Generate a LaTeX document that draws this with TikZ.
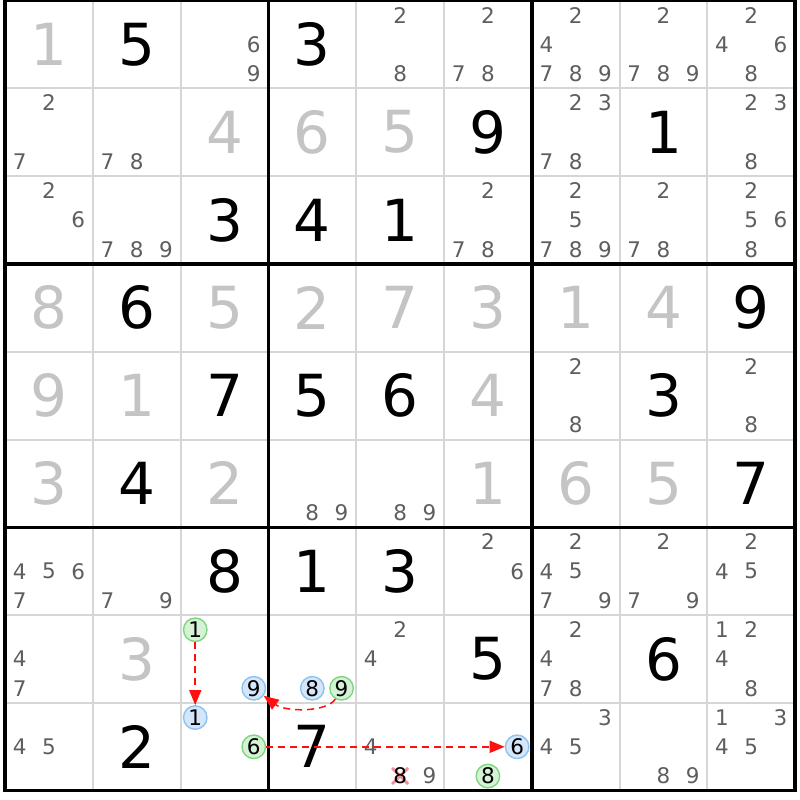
\documentclass[tikz,border=0pt]{standalone}
\usepackage{fontspec}
\setmainfont{DejaVu Sans}
\usetikzlibrary{arrows.meta}
\definecolor{solvedc}{HTML}{C4C4C4}
\definecolor{candc}{HTML}{5E5E5E}
\definecolor{gridc}{HTML}{D6D6D6}
\definecolor{bluefill}{HTML}{D4E6FA}
\definecolor{blueline}{HTML}{8EC2F0}
\definecolor{greenfill}{HTML}{D6F2D6}
\definecolor{greenline}{HTML}{7ED67E}
\definecolor{arrowc}{HTML}{FF1010}
\definecolor{crossc}{HTML}{F28C96}
\newcommand\givenD[3]{\node[bigd] (g#1#2) at ({5+(#2-0.5)*87.8},{0.5+(#1-0.5)*87.8}) {#3};}
\newcommand\solvedD[3]{\node[bigd,text=solvedc] (s#1#2) at ({5+(#2-0.5)*87.8},{0.5+(#1-0.5)*87.8}) {#3};}
\newcommand\candsD[3]{\foreach \d in {#3}{\node[cand] (c#1#2\d) at ({5+(#2-1)*87.8+(mod(\d-1,3)+0.5)*29.2667},{0.5+(#1-1)*87.8+(floor((\d-1)/3)+0.5)*29.2667}) {\d};}}
\newcommand\hlD[5]{\node[#4] (#5) at ({5+(#2-1)*87.8+(mod(#3-1,3)+0.5)*29.2667},{0.5+(#1-1)*87.8+(floor((#3-1)/3)+0.5)*29.2667}) {#3};}
\begin{document}
\begin{tikzpicture}[x=1pt,y=-1pt,
  bigd/.style={inner sep=0pt,font=\fontsize{58}{58}\selectfont,text=black},
  cand/.style={inner sep=0pt,font=\fontsize{21.5}{21.5}\selectfont,text=candc},
  bluehl/.style={circle,inner sep=0pt,minimum size=23.5pt,draw=blueline,fill=bluefill,line width=1.4pt,font=\fontsize{21.5}{21.5}\selectfont,text=black},
  greenhl/.style={circle,inner sep=0pt,minimum size=23.5pt,draw=greenline,fill=greenfill,line width=1.4pt,font=\fontsize{21.5}{21.5}\selectfont,text=black},
  thingrid/.style={gridc,line width=2pt},
  thickgrid/.style={black,line width=3.5pt},
  chain/.style={arrowc,line width=1.5pt,dash pattern=on 7pt off 5pt,-{Triangle[length=15pt,width=12pt]}}]
\useasboundingbox (0,0) rectangle (800,800);
\fill[white] (0,0) rectangle (800,800);
% grid
\foreach \i in {1,2,4,5,7,8}{
  \draw[thingrid] ({5+\i*87.8},0.5) -- ({5+\i*87.8},790.7);
  \draw[thingrid] (5,{0.5+\i*87.8}) -- (795.2,{0.5+\i*87.8});
}
\foreach \i in {0,3,6,9}{
  \draw[thickgrid] ({5+\i*87.8},-1.25) -- ({5+\i*87.8},792.45);
  \draw[thickgrid] (3.25,{0.5+\i*87.8}) -- (796.95,{0.5+\i*87.8});
}
% row 1
\solvedD{1}{1}{1} \givenD{1}{2}{5} \candsD{1}{3}{6,9} \givenD{1}{4}{3}
\candsD{1}{5}{2,8} \candsD{1}{6}{2,7,8} \candsD{1}{7}{2,4,7,8,9} \candsD{1}{8}{2,7,8,9} \candsD{1}{9}{2,4,6,8}
% row 2
\candsD{2}{1}{2,7} \candsD{2}{2}{7,8} \solvedD{2}{3}{4} \solvedD{2}{4}{6} \solvedD{2}{5}{5}
\givenD{2}{6}{9} \candsD{2}{7}{2,3,7,8} \givenD{2}{8}{1} \candsD{2}{9}{2,3,8}
% row 3
\candsD{3}{1}{2,6} \candsD{3}{2}{7,8,9} \givenD{3}{3}{3} \givenD{3}{4}{4} \givenD{3}{5}{1}
\candsD{3}{6}{2,7,8} \candsD{3}{7}{2,5,7,8,9} \candsD{3}{8}{2,7,8} \candsD{3}{9}{2,5,6,8}
% row 4
\solvedD{4}{1}{8} \givenD{4}{2}{6} \solvedD{4}{3}{5} \solvedD{4}{4}{2} \solvedD{4}{5}{7}
\solvedD{4}{6}{3} \solvedD{4}{7}{1} \solvedD{4}{8}{4} \givenD{4}{9}{9}
% row 5
\solvedD{5}{1}{9} \solvedD{5}{2}{1} \givenD{5}{3}{7} \givenD{5}{4}{5} \givenD{5}{5}{6}
\solvedD{5}{6}{4} \candsD{5}{7}{2,8} \givenD{5}{8}{3} \candsD{5}{9}{2,8}
% row 6
\solvedD{6}{1}{3} \givenD{6}{2}{4} \solvedD{6}{3}{2} \candsD{6}{4}{8,9} \candsD{6}{5}{8,9}
\solvedD{6}{6}{1} \solvedD{6}{7}{6} \solvedD{6}{8}{5} \givenD{6}{9}{7}
% row 7
\candsD{7}{1}{4,5,6,7} \candsD{7}{2}{7,9} \givenD{7}{3}{8} \givenD{7}{4}{1} \givenD{7}{5}{3}
\candsD{7}{6}{2,6} \candsD{7}{7}{2,4,5,7,9} \candsD{7}{8}{2,7,9} \candsD{7}{9}{2,4,5}
% row 8
\candsD{8}{1}{4,7} \solvedD{8}{2}{3}
\hlD{8}{3}{1}{greenhl}{ga} \hlD{8}{3}{9}{bluehl}{bb}
\hlD{8}{4}{8}{bluehl}{bc} \hlD{8}{4}{9}{greenhl}{gb}
\candsD{8}{5}{2,4} \givenD{8}{6}{5} \candsD{8}{7}{2,4,7,8} \givenD{8}{8}{6} \candsD{8}{9}{1,2,4,8}
% row 9
\candsD{9}{1}{4,5} \givenD{9}{2}{2}
\hlD{9}{3}{1}{bluehl}{ba} \hlD{9}{3}{6}{greenhl}{gc}
\givenD{9}{4}{7}
\coordinate (xc) at ({5+4*87.8+1.5*29.2667},{0.5+8*87.8+2.5*29.2667});
\draw[crossc,line width=2.8pt] ([shift={(-8,-8)}]xc) -- ([shift={(8,8)}]xc);
\draw[crossc,line width=2.8pt] ([shift={(-8,8)}]xc) -- ([shift={(8,-8)}]xc);
\node[cand,text=black] (x98) at (xc) {8};
\candsD{9}{5}{4,9}
\hlD{9}{6}{6}{bluehl}{bd} \hlD{9}{6}{8}{greenhl}{gd}
\candsD{9}{7}{3,4,5} \candsD{9}{8}{8,9} \candsD{9}{9}{1,3,4,5}
% chains
\draw[chain] (ga) -- (ba);
\draw[chain] (gb) .. controls +(-14,24) and +(32,24) .. (bb);
\draw[chain] (gc) -- (bd);
\end{tikzpicture}
\end{document}
